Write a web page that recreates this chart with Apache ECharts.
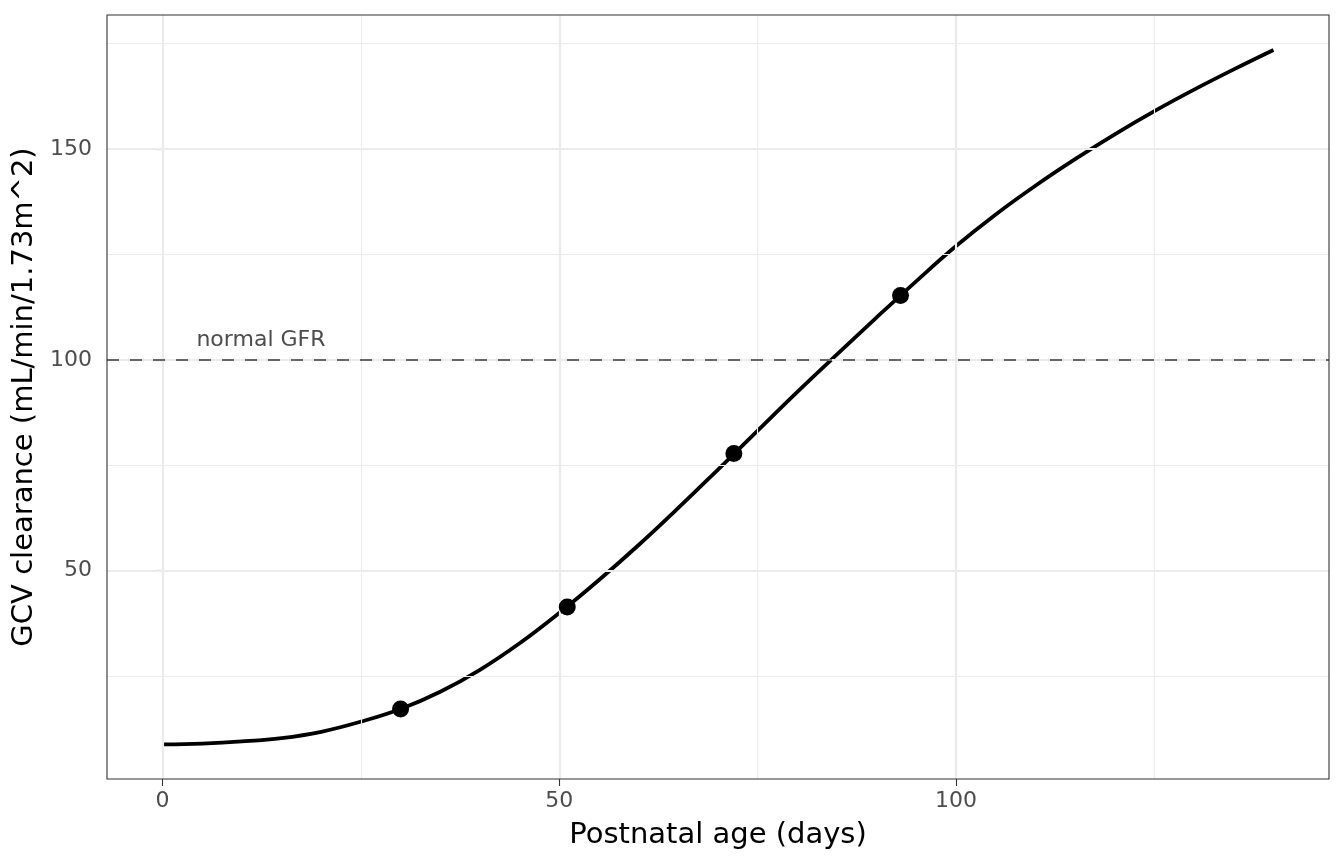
<!DOCTYPE html>
<html>
<head>
<meta charset="utf-8">
<script src="https://cdn.jsdelivr.net/npm/echarts@6/dist/echarts.min.js"></script>
<style>
html,body{margin:0;padding:0;background:#fff;}
#chart{width:1344px;height:864px;}
</style>
</head>
<body>
<div id="chart"></div>
<script>
const days = [0,5,10,15,20,25,30,35,40,45,50,55,60,65,70,75,80,85,90,95,100,105,110,115,120,125,130,135,140];
const clearance = [8.8,9.0,9.5,10.3,11.8,14.2,17.2,21.3,26.5,32.8,40.0,47.8,56.1,64.9,74.0,83.2,92.4,101.3,110.1,118.7,127.0,134.5,141.3,147.6,153.5,159.0,164.1,168.9,173.5];
const obsDays = [30,51,72,93];
const obsClearance = [17.2,41.4,77.8,115.3];
const xTicks = [0,50,100];
const yTicks = [50,100,150];
const xMinor = [25,75,125];
const yMinor = [25,75,125,175];
const refValue = 100;
const refLabel = 'normal GFR';
const refLabelPos = [12.4, 104.6];

const FONT = 'DejaVu Sans';
const chart = echarts.init(document.getElementById('chart'));

const gridLines = [];
xMinor.forEach(v => gridLines.push({xAxis: v, lineStyle: {color: '#ebebeb', width: 1.1, type: 'solid'}}));
yMinor.forEach(v => gridLines.push({yAxis: v, lineStyle: {color: '#ebebeb', width: 1.1, type: 'solid'}}));
xTicks.forEach(v => gridLines.push({xAxis: v, lineStyle: {color: '#ebebeb', width: 2.2, type: 'solid'}}));
yTicks.forEach(v => gridLines.push({yAxis: v, lineStyle: {color: '#ebebeb', width: 2.2, type: 'solid'}}));

chart.setOption({
  animation: false,
  backgroundColor: '#fff',
  grid: {left: 107, right: 15, top: 15, bottom: 85, show: true, borderColor: '#333', borderWidth: 1.1, backgroundColor: 'transparent', z: 10},
  xAxis: {
    type: 'value', min: -7, max: 147,
    name: 'Postnatal age (days)', nameLocation: 'middle', nameGap: 42,
    nameTextStyle: {fontFamily: FONT, fontSize: 29, color: '#000'},
    axisLine: {show: false},
    axisTick: {show: true, length: 7, customValues: xTicks, lineStyle: {color: '#333', width: 1.1}},
    axisLabel: {customValues: xTicks, fontFamily: FONT, fontSize: 22, color: '#4d4d4d', margin: 11},
    splitLine: {show: false}
  },
  yAxis: {
    type: 'value', min: 0.6, max: 181.8,
    name: 'GCV clearance (mL/min/1.73m^2)', nameLocation: 'middle', nameGap: 66, nameRotate: 90,
    nameTextStyle: {fontFamily: FONT, fontSize: 29, color: '#000'},
    axisLine: {show: false},
    axisTick: {show: true, length: 7, customValues: yTicks, lineStyle: {color: '#333', width: 1.1}},
    axisLabel: {customValues: yTicks, fontFamily: FONT, fontSize: 22, color: '#4d4d4d', margin: 15},
    splitLine: {show: false}
  },
  series: [
    {
      type: 'line', data: [], silent: true, z: 1,
      markLine: {silent: true, symbol: 'none', label: {show: false}, animation: false, data: gridLines}
    },
    {
      type: 'line', data: [], silent: true, z: 2,
      markLine: {silent: true, symbol: 'none', label: {show: false}, animation: false,
        data: [{yAxis: refValue, lineStyle: {color: '#666', width: 2.2, type: [12, 11]}}]}
    },
    {
      type: 'scatter', silent: true, z: 3, symbolSize: 0,
      data: [refLabelPos],
      itemStyle: {opacity: 1},
      label: {show: true, position: 'inside', formatter: refLabel, fontFamily: FONT, fontSize: 22, color: '#4d4d4d', opacity: 1}
    },
    {
      type: 'line', z: 4,
      data: days.map((d, i) => [d, clearance[i]]),
      smooth: 0.4, showSymbol: false,
      lineStyle: {color: '#000', width: 3.8}
    },
    {
      type: 'scatter', z: 5,
      data: obsDays.map((d, i) => [d, obsClearance[i]]),
      symbolSize: 17, itemStyle: {color: '#000', opacity: 1}
    }
  ]
});
</script>
</body>
</html>
